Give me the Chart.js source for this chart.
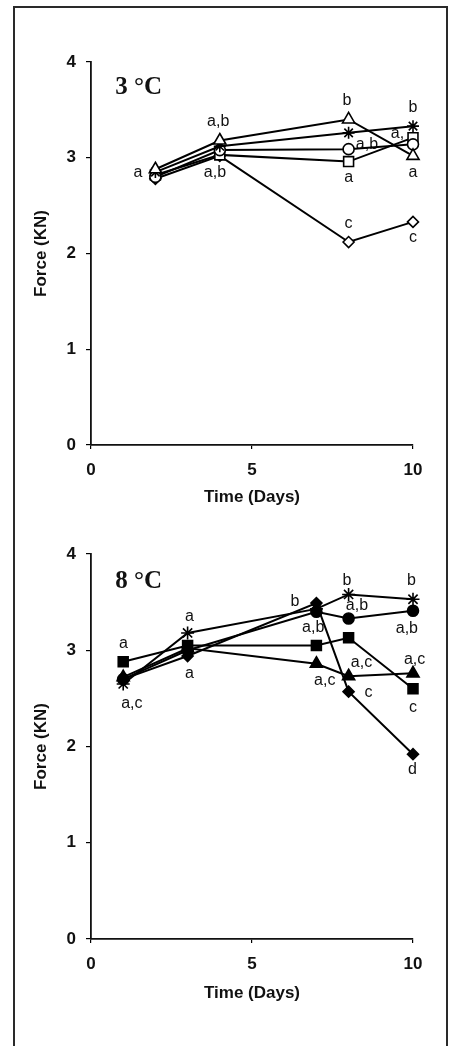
<!DOCTYPE html>
<html>
<head>
<meta charset="utf-8">
<script src="https://cdn.jsdelivr.net/npm/chart.js@4.4.1/dist/chart.umd.min.js"></script>
<style>
  html, body { margin: 0; padding: 0; background: #fff; }
  body { width: 454px; height: 1046px; position: relative; overflow: hidden; }
  #frame { position: absolute; left: 13px; top: 6px; width: 435px; height: 1100px;
           border: 2px solid #2a2a2a; box-sizing: border-box; }
  .wrap { position: absolute; left: 0; width: 454px; }
  canvas { display: block; }
</style>
</head>
<body>
<div id="frame"></div>
<div class="wrap" style="top:0;height:520px;"><canvas id="c1" width="454" height="520"></canvas></div>
<div class="wrap" style="top:520px;height:526px;"><canvas id="c2" width="454" height="526"></canvas></div>
<script>
// ---------- Data: 3 °C panel ----------
const daysTop = [2, 4, 8, 10];
const top_triangle = [2.88, 3.18, 3.40, 3.02];
const top_star     = [2.85, 3.12, 3.26, 3.33];
const top_circle   = [2.80, 3.08, 3.09, 3.14];
const top_square   = [2.82, 3.03, 2.96, 3.21];
const top_diamond  = [2.78, 3.02, 2.12, 2.33];
const topLabelText = ["a", "a,b", "a,b", "b", "a,b", "a", "c", "b", "a,", "a", "c"];
const topLabelX    = [1.46, 3.95, 3.85, 7.95, 8.57, 8.0, 8.0, 10.0, 9.52, 10.0, 10.0];
const topLabelY    = [2.84, 3.38, 2.84, 3.60, 3.14, 2.79, 2.31, 3.52, 3.25, 2.84, 2.17];

// ---------- Data: 8 °C panel ----------
const daysBottom = [1, 3, 7, 8, 10];
const bot_square   = [2.88, 3.05, 3.05, 3.13, 2.60];
const bot_triangle = [2.72, 3.02, 2.86, 2.73, 2.76];
const bot_star     = [2.65, 3.18, 3.43, 3.58, 3.53];
const bot_circle   = [2.70, 3.00, 3.40, 3.33, 3.41];
const bot_diamond  = [2.70, 2.94, 3.49, 2.57, 1.92];
const botLabelText = ["a", "a,c", "a", "a", "b", "a,b", "a,c", "b", "a,b", "a,c", "c", "b", "a,b", "a,c", "c", "d"];
const botLabelX    = [1.01, 1.27, 3.06, 3.06, 6.33, 6.90, 7.26, 7.95, 8.26, 8.40, 8.62, 9.95, 9.81, 10.05, 10.0, 9.98];
const botLabelY    = [3.07, 2.45, 3.35, 2.76, 3.51, 3.24, 2.68, 3.72, 3.46, 2.87, 2.56, 3.72, 3.23, 2.90, 2.40, 1.76];

// ---------- Axis ticks ----------
const xTickValues = [0, 5, 10];
const yTickValues = [0, 1, 2, 3, 4];

const pts = (xs, ys) => xs.map((x, i) => ({ x: x, y: ys[i] }));

function ds(xs, ys, style, filled, radius) {
  return {
    data: pts(xs, ys),
    borderColor: '#000',
    borderWidth: 2,
    pointStyle: style,
    pointRadius: radius,
    pointBorderColor: '#000',
    pointBorderWidth: 1.6,
    pointBackgroundColor: filled ? '#000' : '#fff',
    tension: 0,
    fill: false,
    clip: false
  };
}

const labelPlugin = {
  id: 'pointLabels',
  beforeDatasetsDraw(chart, args, opts) {
    const { ctx, scales } = chart;
    ctx.save();
    ctx.fillStyle = '#111';
    ctx.font = '16px "Liberation Sans", Arial, sans-serif';
    ctx.textAlign = 'center';
    ctx.textBaseline = 'middle';
    opts.text.forEach((t, i) => {
      ctx.fillText(t, scales.x.getPixelForValue(opts.xs[i]), scales.y.getPixelForValue(opts.ys[i]));
    });
    // panel title
    ctx.font = 'bold 25px "Liberation Serif", "Times New Roman", serif';
    ctx.textAlign = 'left';
    ctx.fillText(opts.title, scales.x.getPixelForValue(opts.titleX), scales.y.getPixelForValue(opts.titleY));
    ctx.restore();
  }
};

function makeChart(id, datasets, labelOpts, padTop, xAxisHeight, xTitlePadBottom) {
  return new Chart(document.getElementById(id), {
    type: 'line',
    data: { datasets: datasets },
    plugins: [labelPlugin],
    options: {
      responsive: false,
      animation: false,
      events: [],
      layout: { padding: { left: 0, right: 41, top: padTop, bottom: 0 } },
      plugins: {
        legend: { display: false },
        tooltip: { enabled: false },
        pointLabels: labelOpts
      },
      scales: {
        x: {
          type: 'linear',
          min: 0, max: 10,
          afterBuildTicks: s => { s.ticks = xTickValues.map(v => ({ value: v })); },
          afterFit: s => { s.height = xAxisHeight; },
          grid: { display: true, drawOnChartArea: false, drawTicks: true, tickLength: 4, color: '#000', lineWidth: 1.2 },
          border: { display: true, color: '#111', width: 1.8 },
          ticks: { color: '#111', padding: 11, font: { family: '"Liberation Sans", Arial, sans-serif', size: 17, weight: 'bold' } },
          title: { display: true, text: 'Time (Days)', color: '#111',
                   padding: { top: 0, bottom: xTitlePadBottom },
                   font: { family: '"Liberation Sans", Arial, sans-serif', size: 17, weight: 'bold' } }
        },
        y: {
          type: 'linear',
          min: 0, max: 4,
          afterBuildTicks: s => { s.ticks = yTickValues.map(v => ({ value: v })); },
          afterFit: s => { s.width = 91; },
          grid: { display: true, drawOnChartArea: false, drawTicks: true, tickLength: 5, color: '#000', lineWidth: 1.2 },
          border: { display: true, color: '#111', width: 1.8 },
          ticks: { color: '#111', padding: 10, font: { family: '"Liberation Sans", Arial, sans-serif', size: 17, weight: 'bold' } },
          title: { display: true, text: 'Force (KN)', color: '#111',
                   padding: { top: 31, bottom: 0 },
                   font: { family: '"Liberation Sans", Arial, sans-serif', size: 17, weight: 'bold' } }
        }
      }
    }
  });
}

makeChart('c1', [
  ds(daysTop, top_triangle, 'triangle', false, 7),
  ds(daysTop, top_star, 'star', false, 6),
  ds(daysTop, top_circle, 'circle', false, 5.5),
  ds(daysTop, top_square, 'rect', false, 7),
  ds(daysTop, top_diamond, 'rectRot', false, 5.5)
], { text: topLabelText, xs: topLabelX, ys: topLabelY, title: '3 °C', titleX: 0.75, titleY: 3.73 },
   62, 75, 12);

makeChart('c2', [
  ds(daysBottom, bot_square, 'rect', true, 7),
  ds(daysBottom, bot_triangle, 'triangle', true, 7),
  ds(daysBottom, bot_star, 'star', false, 6.5),
  ds(daysBottom, bot_circle, 'circle', true, 5.5),
  ds(daysBottom, bot_diamond, 'rectRot', true, 5.5)
], { text: botLabelText, xs: botLabelX, ys: botLabelY, title: '8 °C', titleX: 0.75, titleY: 3.71 },
   34, 107, 42);
</script>
</body>
</html>
